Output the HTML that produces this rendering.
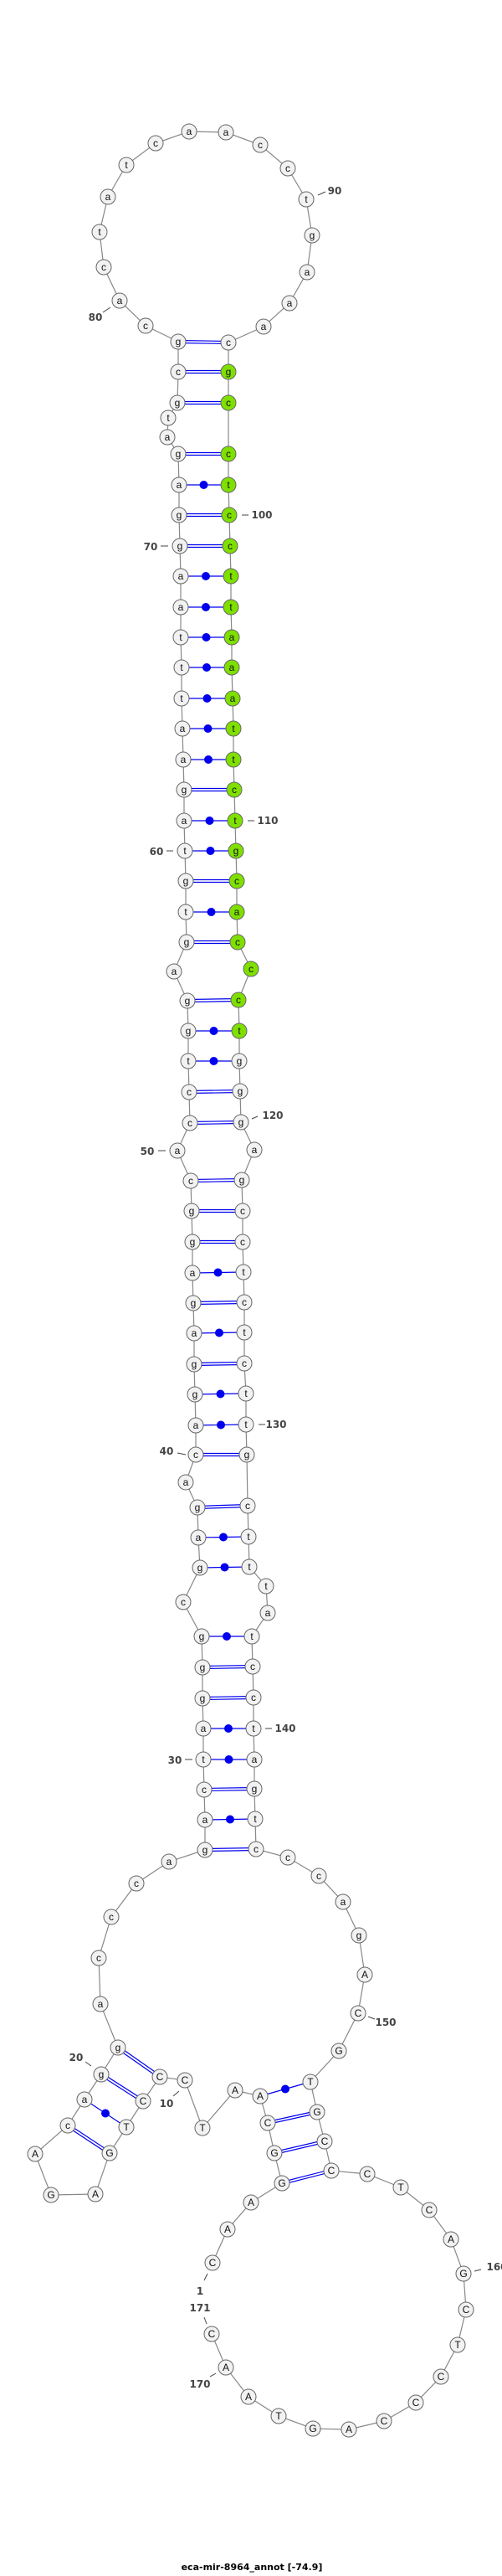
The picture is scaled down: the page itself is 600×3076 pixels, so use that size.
<!DOCTYPE html>
<html><head><meta charset="utf-8"><style>
html,body{margin:0;padding:0;background:#fff;}
svg{display:block;}
.n circle{fill:#f2f2f2;stroke:#666;stroke-width:1;}
.n circle.g{fill:#7fe000;}
.n text{font-family:"Liberation Sans",sans-serif;font-size:12px;text-anchor:middle;fill:#111;}
.lb{font-family:"DejaVu Sans","Liberation Sans",sans-serif;font-size:12px;font-weight:bold;fill:#444;text-anchor:middle;}
.tk{stroke:#444;stroke-width:1;}
.bp{stroke:#0000ee;stroke-width:1.2;}
.dt{fill:#0000ee;}
</style></head><body>
<svg width="600" height="3076" viewBox="0 0 600 3076" xmlns="http://www.w3.org/2000/svg">
<polyline fill="none" stroke="#888" stroke-width="1.2" points="254,2702 272,2662 300,2630 337,2607 328,2571 320,2535 311,2503 281,2496 242,2541 221,2484 191,2480 171,2509 151,2540 131,2571 114,2620 61,2621 42,2572 81,2538 101,2507 121,2477 141,2445 120,2393 118,2338 133,2289 163,2249 202,2223 245,2209 245,2173 244,2137 243,2101 243,2064 242,2028 242,1991 241,1954 219,1913 239,1872 237,1836 236,1800 222,1770 234,1737 234,1702 233,1665 232,1629 232,1592 231,1556 230,1520 230,1483 229,1446 228,1410 212,1374 227,1341 226,1304 225,1267 225,1231 224,1195 208,1160 223,1125 222,1089 222,1052 221,1016 220,980 220,943 219,907 218,870 217,834 217,797 216,761 216,725 216,688 215,652 214,615 214,579 213,542 200,522 201,499 212,481 213,444 213,408 174,389 143,359 124,319 119,277 129,235 151,197 186,171 226,157 270,158 311,173 344,201 366,238 373,281 367,325 346,362 315,390 273,409 273,444 273,481 273,542 273,579 274,615 275,652 276,688 276,725 277,761 277,797 278,834 279,870 279,907 280,943 281,980 282,1016 283,1052 283,1089 284,1125 300,1157 285,1194 286,1231 286,1267 287,1303 288,1340 304,1373 289,1409 290,1446 290,1483 291,1519 292,1555 292,1591 292,1628 294,1664 294,1701 295,1737 296,1798 297,1835 298,1871 318,1894 320,1926 301,1954 302,1990 303,2027 303,2064 304,2101 304,2136 305,2172 306,2208 344,2218 381,2240 410,2271 429,2311 436,2358 428,2404 405,2449 371,2486 379,2522 388,2557 396,2592 439,2596 479,2612 513,2639 539,2674 554,2715 557,2758 547,2800 527,2838 497,2869 459,2891 417,2901 374,2900 333,2885 297,2862 270,2827 253,2787"/>
<g class="bp">
<!-- double (GC) pairs -->
<line x1="213" y1="406.5" x2="273" y2="407.5"/><line x1="213" y1="409.5" x2="273" y2="410.5"/>
<line x1="213" y1="442.5" x2="273" y2="442.5"/><line x1="213" y1="445.5" x2="273" y2="445.5"/>
<line x1="212" y1="479.5" x2="273" y2="479.5"/><line x1="212" y1="482.5" x2="273" y2="482.5"/>
<line x1="213" y1="540.5" x2="273" y2="540.5"/><line x1="213" y1="543.5" x2="273" y2="543.5"/>
<line x1="214" y1="613.5" x2="274" y2="613.5"/><line x1="214" y1="616.5" x2="274" y2="616.5"/>
<line x1="215" y1="650.5" x2="275" y2="650.5"/><line x1="215" y1="653.5" x2="275" y2="653.5"/>
<line x1="220" y1="941.5" x2="280" y2="941.5"/><line x1="220" y1="944.5" x2="280" y2="944.5"/>
<line x1="222" y1="1050.5" x2="283" y2="1050.5"/><line x1="222" y1="1053.5" x2="283" y2="1053.5"/>
<line x1="223" y1="1123.5" x2="284" y2="1123.5"/><line x1="223" y1="1126.5" x2="284" y2="1126.5"/>
<line x1="224" y1="1193.5" x2="285" y2="1192.5"/><line x1="224" y1="1196.5" x2="285" y2="1195.5"/>
<line x1="226" y1="1302.5" x2="287" y2="1301.5"/><line x1="226" y1="1305.5" x2="287" y2="1304.5"/>
<line x1="227" y1="1339.5" x2="288" y2="1338.5"/><line x1="227" y1="1342.5" x2="288" y2="1341.5"/>
<line x1="228" y1="1408.5" x2="289" y2="1407.5"/><line x1="228" y1="1411.5" x2="289" y2="1410.5"/>
<line x1="229" y1="1444.5" x2="290" y2="1444.5"/><line x1="229" y1="1447.5" x2="290" y2="1447.5"/>
<line x1="230" y1="1481.5" x2="290" y2="1481.5"/><line x1="230" y1="1484.5" x2="290" y2="1484.5"/>
<line x1="231" y1="1554.5" x2="292" y2="1553.5"/><line x1="231" y1="1557.5" x2="292" y2="1556.5"/>
<line x1="232" y1="1627.5" x2="292" y2="1626.5"/><line x1="232" y1="1630.5" x2="292" y2="1629.5"/>
<line x1="234" y1="1735.5" x2="295" y2="1735.5"/><line x1="234" y1="1738.5" x2="295" y2="1738.5"/>
<line x1="236" y1="1798.5" x2="296" y2="1796.5"/><line x1="236" y1="1801.5" x2="296" y2="1799.5"/>
<line x1="242" y1="1989.5" x2="302" y2="1988.5"/><line x1="242" y1="1992.5" x2="302" y2="1991.5"/>
<line x1="242" y1="2026.5" x2="303" y2="2025.5"/><line x1="242" y1="2029.5" x2="303" y2="2028.5"/>
<line x1="244" y1="2135.5" x2="304" y2="2134.5"/><line x1="244" y1="2138.5" x2="304" y2="2137.5"/>
<line x1="245" y1="2207.5" x2="306" y2="2206.5"/><line x1="245" y1="2210.5" x2="306" y2="2209.5"/>
<line x1="142" y1="2443.8" x2="192" y2="2478.8"/><line x1="140" y1="2446.2" x2="190" y2="2481.2"/>
<line x1="122" y1="2475.8" x2="172" y2="2507.8"/><line x1="120" y1="2478.2" x2="170" y2="2510.2"/>
<line x1="82" y1="2536.8" x2="132" y2="2569.8"/><line x1="80" y1="2539.2" x2="130" y2="2572.2"/>
<line x1="320" y1="2533.5" x2="379" y2="2520.5"/><line x1="320" y1="2536.5" x2="379" y2="2523.5"/>
<line x1="328" y1="2569.5" x2="388" y2="2555.5"/><line x1="328" y1="2572.5" x2="388" y2="2558.5"/>
<line x1="337" y1="2605.5" x2="396" y2="2590.5"/><line x1="337" y1="2608.5" x2="396" y2="2593.5"/>
<!-- single (dot) pairs -->
<line x1="214" y1="579" x2="273" y2="579"/>
<line x1="216" y1="688" x2="276" y2="688"/>
<line x1="216" y1="725" x2="276" y2="725"/>
<line x1="216" y1="761" x2="277" y2="761"/>
<line x1="217" y1="797" x2="277" y2="797"/>
<line x1="217" y1="834" x2="278" y2="834"/>
<line x1="218" y1="870" x2="279" y2="870"/>
<line x1="219" y1="907" x2="279" y2="907"/>
<line x1="220" y1="980" x2="281" y2="980"/>
<line x1="221" y1="1016" x2="282" y2="1016"/>
<line x1="222" y1="1089" x2="283" y2="1089"/>
<line x1="225" y1="1231" x2="286" y2="1231"/>
<line x1="225" y1="1267" x2="286" y2="1267"/>
<line x1="230" y1="1520" x2="291" y2="1519"/>
<line x1="232" y1="1592" x2="292" y2="1591"/>
<line x1="233" y1="1665" x2="294" y2="1664"/>
<line x1="234" y1="1702" x2="294" y2="1701"/>
<line x1="237" y1="1836" x2="297" y2="1835"/>
<line x1="239" y1="1872" x2="298" y2="1871"/>
<line x1="241" y1="1954" x2="301" y2="1954"/>
<line x1="243" y1="2064" x2="303" y2="2064"/>
<line x1="243" y1="2101" x2="304" y2="2101"/>
<line x1="245" y1="2173" x2="305" y2="2172"/>
<line x1="101" y1="2507" x2="151" y2="2540"/>
<line x1="311" y1="2503" x2="371" y2="2486"/>
</g>
<g class="dt">
<circle cx="243.5" cy="579" r="5"/><circle cx="246" cy="688" r="5"/><circle cx="246" cy="725" r="5"/><circle cx="246.5" cy="761" r="5"/><circle cx="247" cy="797" r="5"/><circle cx="247.5" cy="834" r="5"/><circle cx="248.5" cy="870" r="5"/><circle cx="249" cy="907" r="5"/><circle cx="250.5" cy="980" r="5"/><circle cx="251.5" cy="1016" r="5"/><circle cx="252.5" cy="1089" r="5"/><circle cx="255.5" cy="1231" r="5"/><circle cx="255.5" cy="1267" r="5"/><circle cx="260.5" cy="1519.5" r="5"/><circle cx="262" cy="1591.5" r="5"/><circle cx="263.5" cy="1664.5" r="5"/><circle cx="264" cy="1701.5" r="5"/><circle cx="267" cy="1835.5" r="5"/><circle cx="268.5" cy="1871.5" r="5"/><circle cx="271" cy="1954" r="5"/><circle cx="273" cy="2064" r="5"/><circle cx="273.5" cy="2101" r="5"/><circle cx="275" cy="2172.5" r="5"/><circle cx="126" cy="2523.5" r="5"/><circle cx="341" cy="2494.5" r="5"/>
</g>
<g class="n">
<circle cx="254" cy="2702" r="9"/><text x="254" y="2706">C</text>
<circle cx="272" cy="2662" r="9"/><text x="272" y="2666">A</text>
<circle cx="300" cy="2630" r="9"/><text x="300" y="2634">A</text>
<circle cx="337" cy="2607" r="9"/><text x="337" y="2611">G</text>
<circle cx="328" cy="2571" r="9"/><text x="328" y="2575">G</text>
<circle cx="320" cy="2535" r="9"/><text x="320" y="2539">C</text>
<circle cx="311" cy="2503" r="9"/><text x="311" y="2507">A</text>
<circle cx="281" cy="2496" r="9"/><text x="281" y="2500">A</text>
<circle cx="242" cy="2541" r="9"/><text x="242" y="2545">T</text>
<circle cx="221" cy="2484" r="9"/><text x="221" y="2488">C</text>
<circle cx="191" cy="2480" r="9"/><text x="191" y="2484">C</text>
<circle cx="171" cy="2509" r="9"/><text x="171" y="2513">C</text>
<circle cx="151" cy="2540" r="9"/><text x="151" y="2544">T</text>
<circle cx="131" cy="2571" r="9"/><text x="131" y="2575">G</text>
<circle cx="114" cy="2620" r="9"/><text x="114" y="2624">A</text>
<circle cx="61" cy="2621" r="9"/><text x="61" y="2625">G</text>
<circle cx="42" cy="2572" r="9"/><text x="42" y="2576">A</text>
<circle cx="81" cy="2538" r="9"/><text x="81" y="2542">c</text>
<circle cx="101" cy="2507" r="9"/><text x="101" y="2511">a</text>
<circle cx="121" cy="2477" r="9"/><text x="121" y="2481">g</text>
<circle cx="141" cy="2445" r="9"/><text x="141" y="2449">g</text>
<circle cx="120" cy="2393" r="9"/><text x="120" y="2397">a</text>
<circle cx="118" cy="2338" r="9"/><text x="118" y="2342">c</text>
<circle cx="133" cy="2289" r="9"/><text x="133" y="2293">c</text>
<circle cx="163" cy="2249" r="9"/><text x="163" y="2253">c</text>
<circle cx="202" cy="2223" r="9"/><text x="202" y="2227">a</text>
<circle cx="245" cy="2209" r="9"/><text x="245" y="2213">g</text>
<circle cx="245" cy="2173" r="9"/><text x="245" y="2177">a</text>
<circle cx="244" cy="2137" r="9"/><text x="244" y="2141">c</text>
<circle cx="243" cy="2101" r="9"/><text x="243" y="2105">t</text>
<circle cx="243" cy="2064" r="9"/><text x="243" y="2068">a</text>
<circle cx="242" cy="2028" r="9"/><text x="242" y="2032">g</text>
<circle cx="242" cy="1991" r="9"/><text x="242" y="1995">g</text>
<circle cx="241" cy="1954" r="9"/><text x="241" y="1958">g</text>
<circle cx="219" cy="1913" r="9"/><text x="219" y="1917">c</text>
<circle cx="239" cy="1872" r="9"/><text x="239" y="1876">g</text>
<circle cx="237" cy="1836" r="9"/><text x="237" y="1840">a</text>
<circle cx="236" cy="1800" r="9"/><text x="236" y="1804">g</text>
<circle cx="222" cy="1770" r="9"/><text x="222" y="1774">a</text>
<circle cx="234" cy="1737" r="9"/><text x="234" y="1741">c</text>
<circle cx="234" cy="1702" r="9"/><text x="234" y="1706">a</text>
<circle cx="233" cy="1665" r="9"/><text x="233" y="1669">g</text>
<circle cx="232" cy="1629" r="9"/><text x="232" y="1633">g</text>
<circle cx="232" cy="1592" r="9"/><text x="232" y="1596">a</text>
<circle cx="231" cy="1556" r="9"/><text x="231" y="1560">g</text>
<circle cx="230" cy="1520" r="9"/><text x="230" y="1524">a</text>
<circle cx="230" cy="1483" r="9"/><text x="230" y="1487">g</text>
<circle cx="229" cy="1446" r="9"/><text x="229" y="1450">g</text>
<circle cx="228" cy="1410" r="9"/><text x="228" y="1414">c</text>
<circle cx="212" cy="1374" r="9"/><text x="212" y="1378">a</text>
<circle cx="227" cy="1341" r="9"/><text x="227" y="1345">c</text>
<circle cx="226" cy="1304" r="9"/><text x="226" y="1308">c</text>
<circle cx="225" cy="1267" r="9"/><text x="225" y="1271">t</text>
<circle cx="225" cy="1231" r="9"/><text x="225" y="1235">g</text>
<circle cx="224" cy="1195" r="9"/><text x="224" y="1199">g</text>
<circle cx="208" cy="1160" r="9"/><text x="208" y="1164">a</text>
<circle cx="223" cy="1125" r="9"/><text x="223" y="1129">g</text>
<circle cx="222" cy="1089" r="9"/><text x="222" y="1093">t</text>
<circle cx="222" cy="1052" r="9"/><text x="222" y="1056">g</text>
<circle cx="221" cy="1016" r="9"/><text x="221" y="1020">t</text>
<circle cx="220" cy="980" r="9"/><text x="220" y="984">a</text>
<circle cx="220" cy="943" r="9"/><text x="220" y="947">g</text>
<circle cx="219" cy="907" r="9"/><text x="219" y="911">a</text>
<circle cx="218" cy="870" r="9"/><text x="218" y="874">a</text>
<circle cx="217" cy="834" r="9"/><text x="217" y="838">t</text>
<circle cx="217" cy="797" r="9"/><text x="217" y="801">t</text>
<circle cx="216" cy="761" r="9"/><text x="216" y="765">t</text>
<circle cx="216" cy="725" r="9"/><text x="216" y="729">a</text>
<circle cx="216" cy="688" r="9"/><text x="216" y="692">a</text>
<circle cx="215" cy="652" r="9"/><text x="215" y="656">g</text>
<circle cx="214" cy="615" r="9"/><text x="214" y="619">g</text>
<circle cx="214" cy="579" r="9"/><text x="214" y="583">a</text>
<circle cx="213" cy="542" r="9"/><text x="213" y="546">g</text>
<circle cx="200" cy="522" r="9"/><text x="200" y="526">a</text>
<circle cx="201" cy="499" r="9"/><text x="201" y="503">t</text>
<circle cx="212" cy="481" r="9"/><text x="212" y="485">g</text>
<circle cx="213" cy="444" r="9"/><text x="213" y="448">c</text>
<circle cx="213" cy="408" r="9"/><text x="213" y="412">g</text>
<circle cx="174" cy="389" r="9"/><text x="174" y="393">c</text>
<circle cx="143" cy="359" r="9"/><text x="143" y="363">a</text>
<circle cx="124" cy="319" r="9"/><text x="124" y="323">c</text>
<circle cx="119" cy="277" r="9"/><text x="119" y="281">t</text>
<circle cx="129" cy="235" r="9"/><text x="129" y="239">a</text>
<circle cx="151" cy="197" r="9"/><text x="151" y="201">t</text>
<circle cx="186" cy="171" r="9"/><text x="186" y="175">c</text>
<circle cx="226" cy="157" r="9"/><text x="226" y="161">a</text>
<circle cx="270" cy="158" r="9"/><text x="270" y="162">a</text>
<circle cx="311" cy="173" r="9"/><text x="311" y="177">c</text>
<circle cx="344" cy="201" r="9"/><text x="344" y="205">c</text>
<circle cx="366" cy="238" r="9"/><text x="366" y="242">t</text>
<circle cx="373" cy="281" r="9"/><text x="373" y="285">g</text>
<circle cx="367" cy="325" r="9"/><text x="367" y="329">a</text>
<circle cx="346" cy="362" r="9"/><text x="346" y="366">a</text>
<circle cx="315" cy="390" r="9"/><text x="315" y="394">a</text>
<circle cx="273" cy="409" r="9"/><text x="273" y="413">c</text>
<circle class="g" cx="273" cy="444" r="9"/><text x="273" y="448">g</text>
<circle class="g" cx="273" cy="481" r="9"/><text x="273" y="485">c</text>
<circle class="g" cx="273" cy="542" r="9"/><text x="273" y="546">c</text>
<circle class="g" cx="273" cy="579" r="9"/><text x="273" y="583">t</text>
<circle class="g" cx="274" cy="615" r="9"/><text x="274" y="619">c</text>
<circle class="g" cx="275" cy="652" r="9"/><text x="275" y="656">c</text>
<circle class="g" cx="276" cy="688" r="9"/><text x="276" y="692">t</text>
<circle class="g" cx="276" cy="725" r="9"/><text x="276" y="729">t</text>
<circle class="g" cx="277" cy="761" r="9"/><text x="277" y="765">a</text>
<circle class="g" cx="277" cy="797" r="9"/><text x="277" y="801">a</text>
<circle class="g" cx="278" cy="834" r="9"/><text x="278" y="838">a</text>
<circle class="g" cx="279" cy="870" r="9"/><text x="279" y="874">t</text>
<circle class="g" cx="279" cy="907" r="9"/><text x="279" y="911">t</text>
<circle class="g" cx="280" cy="943" r="9"/><text x="280" y="947">c</text>
<circle class="g" cx="281" cy="980" r="9"/><text x="281" y="984">t</text>
<circle class="g" cx="282" cy="1016" r="9"/><text x="282" y="1020">g</text>
<circle class="g" cx="283" cy="1052" r="9"/><text x="283" y="1056">c</text>
<circle class="g" cx="283" cy="1089" r="9"/><text x="283" y="1093">a</text>
<circle class="g" cx="284" cy="1125" r="9"/><text x="284" y="1129">c</text>
<circle class="g" cx="300" cy="1157" r="9"/><text x="300" y="1161">c</text>
<circle class="g" cx="285" cy="1194" r="9"/><text x="285" y="1198">c</text>
<circle class="g" cx="286" cy="1231" r="9"/><text x="286" y="1235">t</text>
<circle cx="286" cy="1267" r="9"/><text x="286" y="1271">g</text>
<circle cx="287" cy="1303" r="9"/><text x="287" y="1307">g</text>
<circle cx="288" cy="1340" r="9"/><text x="288" y="1344">g</text>
<circle cx="304" cy="1373" r="9"/><text x="304" y="1377">a</text>
<circle cx="289" cy="1409" r="9"/><text x="289" y="1413">g</text>
<circle cx="290" cy="1446" r="9"/><text x="290" y="1450">c</text>
<circle cx="290" cy="1483" r="9"/><text x="290" y="1487">c</text>
<circle cx="291" cy="1519" r="9"/><text x="291" y="1523">t</text>
<circle cx="292" cy="1555" r="9"/><text x="292" y="1559">c</text>
<circle cx="292" cy="1591" r="9"/><text x="292" y="1595">t</text>
<circle cx="292" cy="1628" r="9"/><text x="292" y="1632">c</text>
<circle cx="294" cy="1664" r="9"/><text x="294" y="1668">t</text>
<circle cx="294" cy="1701" r="9"/><text x="294" y="1705">t</text>
<circle cx="295" cy="1737" r="9"/><text x="295" y="1741">g</text>
<circle cx="296" cy="1798" r="9"/><text x="296" y="1802">c</text>
<circle cx="297" cy="1835" r="9"/><text x="297" y="1839">t</text>
<circle cx="298" cy="1871" r="9"/><text x="298" y="1875">t</text>
<circle cx="318" cy="1894" r="9"/><text x="318" y="1898">t</text>
<circle cx="320" cy="1926" r="9"/><text x="320" y="1930">a</text>
<circle cx="301" cy="1954" r="9"/><text x="301" y="1958">t</text>
<circle cx="302" cy="1990" r="9"/><text x="302" y="1994">c</text>
<circle cx="303" cy="2027" r="9"/><text x="303" y="2031">c</text>
<circle cx="303" cy="2064" r="9"/><text x="303" y="2068">t</text>
<circle cx="304" cy="2101" r="9"/><text x="304" y="2105">a</text>
<circle cx="304" cy="2136" r="9"/><text x="304" y="2140">g</text>
<circle cx="305" cy="2172" r="9"/><text x="305" y="2176">t</text>
<circle cx="306" cy="2208" r="9"/><text x="306" y="2212">c</text>
<circle cx="344" cy="2218" r="9"/><text x="344" y="2222">c</text>
<circle cx="381" cy="2240" r="9"/><text x="381" y="2244">c</text>
<circle cx="410" cy="2271" r="9"/><text x="410" y="2275">a</text>
<circle cx="429" cy="2311" r="9"/><text x="429" y="2315">g</text>
<circle cx="436" cy="2358" r="9"/><text x="436" y="2362">A</text>
<circle cx="428" cy="2404" r="9"/><text x="428" y="2408">C</text>
<circle cx="405" cy="2449" r="9"/><text x="405" y="2453">G</text>
<circle cx="371" cy="2486" r="9"/><text x="371" y="2490">T</text>
<circle cx="379" cy="2522" r="9"/><text x="379" y="2526">G</text>
<circle cx="388" cy="2557" r="9"/><text x="388" y="2561">C</text>
<circle cx="396" cy="2592" r="9"/><text x="396" y="2596">C</text>
<circle cx="439" cy="2596" r="9"/><text x="439" y="2600">C</text>
<circle cx="479" cy="2612" r="9"/><text x="479" y="2616">T</text>
<circle cx="513" cy="2639" r="9"/><text x="513" y="2643">C</text>
<circle cx="539" cy="2674" r="9"/><text x="539" y="2678">A</text>
<circle cx="554" cy="2715" r="9"/><text x="554" y="2719">G</text>
<circle cx="557" cy="2758" r="9"/><text x="557" y="2762">C</text>
<circle cx="547" cy="2800" r="9"/><text x="547" y="2804">T</text>
<circle cx="527" cy="2838" r="9"/><text x="527" y="2842">C</text>
<circle cx="497" cy="2869" r="9"/><text x="497" y="2873">C</text>
<circle cx="459" cy="2891" r="9"/><text x="459" y="2895">C</text>
<circle cx="417" cy="2901" r="9"/><text x="417" y="2905">A</text>
<circle cx="374" cy="2900" r="9"/><text x="374" y="2904">G</text>
<circle cx="333" cy="2885" r="9"/><text x="333" y="2889">T</text>
<circle cx="297" cy="2862" r="9"/><text x="297" y="2866">A</text>
<circle cx="270" cy="2827" r="9"/><text x="270" y="2831">A</text>
<circle cx="253" cy="2787" r="9"/><text x="253" y="2791">C</text>
</g>
<g class="tk">
<line x1="123" y1="373" x2="132" y2="367"/>
<line x1="380" y1="233" x2="389" y2="229"/>
<line x1="289" y1="615" x2="297" y2="615"/>
<line x1="192" y1="652" x2="201" y2="652"/>
<line x1="296" y1="980" x2="304" y2="980"/>
<line x1="199" y1="1016" x2="207" y2="1016"/>
<line x1="301" y1="1336" x2="308" y2="1333"/>
<line x1="189" y1="1374" x2="198" y2="1374"/>
<line x1="309" y1="1701" x2="317" y2="1701"/>
<line x1="212" y1="1735" x2="222" y2="1737"/>
<line x1="317" y1="2064" x2="325" y2="2064"/>
<line x1="221" y1="2101" x2="230" y2="2101"/>
<line x1="440" y1="2408" x2="448" y2="2411"/>
<line x1="567" y1="2712" x2="575" y2="2710"/>
<line x1="102" y1="2462" x2="109" y2="2467"/>
<line x1="207" y1="2503" x2="214" y2="2497"/>
<line x1="244" y1="2723" x2="248" y2="2715"/>
<line x1="244" y1="2767" x2="247" y2="2775"/>
<line x1="251" y1="2838" x2="258" y2="2834"/>
</g>
<g class="lb">
<text x="114" y="383">80</text>
<text x="400" y="232">90</text>
<text x="313" y="619">100</text>
<text x="180" y="657">70</text>
<text x="320" y="984">110</text>
<text x="187" y="1021">60</text>
<text x="326" y="1336">120</text>
<text x="176" y="1379">50</text>
<text x="330" y="1705">130</text>
<text x="199" y="1737">40</text>
<text x="341" y="2068">140</text>
<text x="209" y="2106">30</text>
<text x="461" y="2419">150</text>
<text x="594" y="2711">160</text>
<text x="91" y="2461">20</text>
<text x="199" y="2516">10</text>
<text x="239" y="2740">1</text>
<text x="239" y="2760">171</text>
<text x="239" y="2851">170</text>
</g>
<text x="301" y="3069" font-family="DejaVu Sans, Liberation Sans, sans-serif" font-size="11" font-weight="bold" text-anchor="middle" fill="#000">eca-mir-8964_annot [-74.9]</text>
</svg>
</body></html>
